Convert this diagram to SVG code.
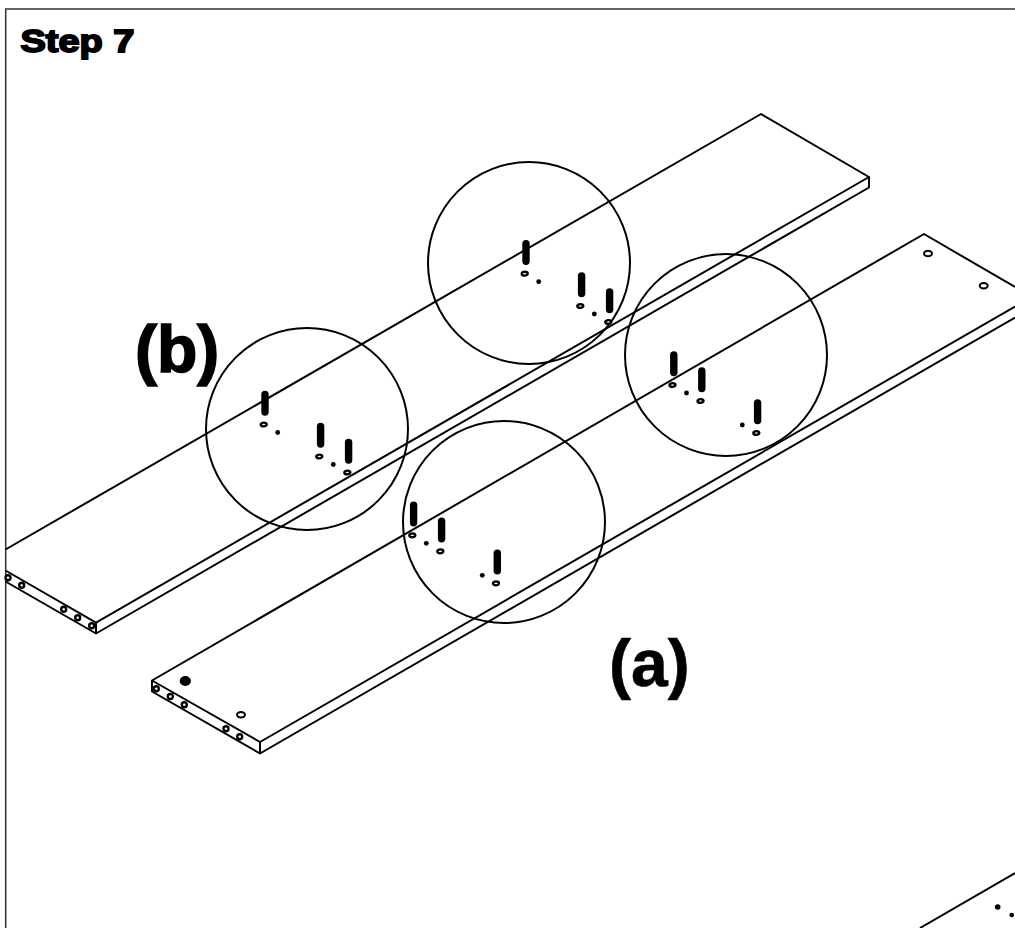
<svg xmlns="http://www.w3.org/2000/svg" width="1015" height="928" viewBox="0 0 1015 928">
<style>
.l{fill:none;stroke:#000;stroke-width:2;stroke-linejoin:round}
.c{fill:none;stroke:#000;stroke-width:2}
.h{fill:#fff;stroke:#000;stroke-width:2}
.e{fill:#fff;stroke:#000;stroke-width:2.4}
.d{fill:#000}
.p{stroke:#000;stroke-width:7.4;stroke-linecap:round}
.t{font-family:"Liberation Sans",Arial,sans-serif;font-weight:700;fill:#000;stroke:#000}
</style>
<defs>
<g id="pegset">
<line class="p" x1="1.3" y1="-30" x2="1.3" y2="-12.5"/>
<ellipse class="e" cx="0" cy="0" rx="3" ry="1.9"/>
</g>
<circle id="edge" class="e" r="2.5"/>
</defs>
<rect width="1015" height="928" fill="#fff"/>
<path d="M5.7 928V9H1015" fill="none" stroke="#333" stroke-width="1.5"/>
<g id="board-b">
<path class="l" d="M5.5 549.5L761 114L869 177L96 622.7L5.5 570.5"/>
<path class="l" d="M5.5 581.5L96 633.5L869 187.5V177M96 622.7V633.5"/>
<use href="#edge" x="8" y="577.7"/><use href="#edge" x="21.7" y="585.3"/><use href="#edge" x="63.7" y="609.3"/><use href="#edge" x="77.7" y="617.7"/><use href="#edge" x="91.7" y="625.7"/>
</g>
<g id="board-a">
<path class="l" d="M1015 287L924 234L152 680.5L260 742L1015 306.5"/>
<path class="l" d="M152 680.5V691.5L260 753.5L1015 317.5M260 742V753.5"/>
<use href="#edge" x="156.3" y="688.7"/><use href="#edge" x="170.3" y="696.5"/><use href="#edge" x="184.3" y="704.7"/><use href="#edge" x="226" y="728.7"/><use href="#edge" x="239.7" y="736.7"/>
<ellipse class="h" cx="928" cy="253.5" rx="4" ry="2.7"/>
<ellipse class="h" cx="983.7" cy="285.7" rx="4" ry="2.7"/>
<ellipse class="h" cx="241" cy="714.7" rx="4" ry="2.7"/>
<ellipse cx="185.3" cy="681" rx="5.6" ry="5" fill="#000"/>
</g>
<g id="board-c">
<path class="l" d="M920 928L1015 873"/>
<circle class="d" cx="997.7" cy="907" r="2.8"/>
<circle class="d" cx="1011.7" cy="915" r="2.3"/>
</g>
<g id="circles">
<circle class="c" cx="529" cy="263" r="101"/>
<circle class="c" cx="726" cy="355" r="101"/>
<circle class="c" cx="504" cy="522" r="101"/>
<circle class="c" cx="307" cy="429" r="101"/>
</g>
<g id="pegs-b-top">
<use href="#pegset" x="524.7" y="273.7"/><use href="#pegset" x="580.3" y="306"/><use href="#pegset" x="608.3" y="322"/>
<circle class="d" cx="538.7" cy="281.7" r="2.4"/><circle class="d" cx="594.3" cy="314" r="2.4"/>
</g>
<g id="pegs-b-left">
<use href="#pegset" x="263.7" y="424.5"/><use href="#pegset" x="319.3" y="456.5"/><use href="#pegset" x="347.3" y="472.5"/>
<circle class="d" cx="277.7" cy="432.5" r="2.4"/><circle class="d" cx="333.3" cy="464.5" r="2.4"/>
</g>
<g id="pegs-a-left">
<use href="#pegset" x="412.3" y="535.3"/><use href="#pegset" x="440.3" y="551.3"/><use href="#pegset" x="496" y="583.3"/>
<circle class="d" cx="426.3" cy="543.3" r="2.4"/><circle class="d" cx="482.3" cy="575.3" r="2.4"/>
</g>
<g id="pegs-a-right">
<use href="#pegset" x="672.5" y="385"/><use href="#pegset" x="700.5" y="401"/><use href="#pegset" x="756.3" y="433"/>
<circle class="d" cx="686.5" cy="393" r="2.4"/><circle class="d" cx="742.3" cy="425" r="2.4"/>
</g>
<g id="labels">
<text class="t" x="20.5" y="52" font-size="32" textLength="114" lengthAdjust="spacingAndGlyphs" stroke-width="1.8">Step 7</text>
<text class="t" x="135" y="372" font-size="66" stroke-width="1.6">(b)</text>
<text class="t" x="609" y="686" font-size="66" stroke-width="0.6">(a)</text>
</g>
</svg>
